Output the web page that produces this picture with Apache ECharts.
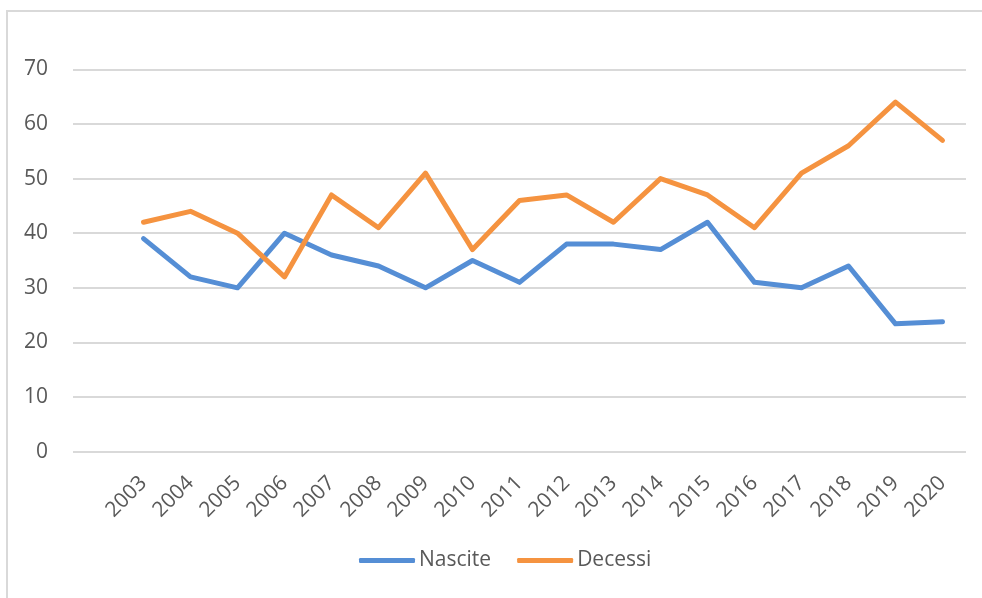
<!DOCTYPE html>
<html>
<head>
<meta charset="utf-8">
<script src="https://cdn.jsdelivr.net/npm/echarts@6/dist/echarts.min.js"></script>
<style>
html,body{margin:0;padding:0;background:#fff;}
#chart{width:982px;height:598px;}
</style>
</head>
<body>
<div id="chart"></div>
<script>
const years = ['2003','2004','2005','2006','2007','2008','2009','2010','2011','2012','2013','2014','2015','2016','2017','2018','2019','2020'];
const nascite = [39,32,30,40,36,34,30,35,31,38,38,37,42,31,30,34,23.4,23.8];
const decessi = [42,44,40,32,47,41,51,37,46,47,42,50,47,41,51,56,64,57];
const yTicks = {min:0, max:70, interval:10};

const FONT = 'Open Sans';
const TXT = '#595959';
const chart = echarts.init(document.getElementById('chart'), null, {renderer:'canvas'});
chart.setOption({
  animation:false,
  backgroundColor:'#fff',
  graphic:[{
    type:'rect', shape:{x:7, y:11, width:1200, height:800},
    style:{fill:'none', stroke:'#d9d9d9', lineWidth:2}, silent:true, z:-1
  }],
  grid:[
    {left:73, right:16, top:69.3, bottom:146.3},
    {left:120, right:16, top:69.3, bottom:146.3}
  ],
  xAxis:[
    {type:'value', gridIndex:0, show:false, min:0, max:1},
    {type:'category', gridIndex:1, data:years, boundaryGap:true,
     axisLine:{show:false}, axisTick:{show:false},
     axisLabel:{rotate:45, margin:28, color:TXT, fontFamily:FONT, fontSize:21, interval:0}}
  ],
  yAxis:[
    {type:'value', gridIndex:0, min:yTicks.min, max:yTicks.max, interval:yTicks.interval,
     axisLine:{show:false}, axisTick:{show:false},
     axisLabel:{margin:25, color:TXT, fontFamily:FONT, fontSize:21},
     splitLine:{lineStyle:{color:'#d9d9d9', width:2}}},
    {type:'value', gridIndex:1, min:yTicks.min, max:yTicks.max, interval:yTicks.interval, show:false,
     splitLine:{show:false}}
  ],
  legend:{
    left:354, top:545, itemWidth:56, itemHeight:5, itemGap:26, icon:'roundRect',
    textStyle:{color:TXT, fontFamily:FONT, fontSize:21, padding:[0,0,0,-1]},
    data:['Nascite','Decessi']
  },
  series:[
    {name:'Nascite', type:'line', xAxisIndex:1, yAxisIndex:1, data:nascite, symbol:'none',
     color:'#558ED5', lineStyle:{width:5, color:'#558ED5', cap:'round', join:'round'}},
    {name:'Decessi', type:'line', xAxisIndex:1, yAxisIndex:1, data:decessi, symbol:'none',
     color:'#F59340', lineStyle:{width:5, color:'#F59340', cap:'round', join:'round'}}
  ]
});
</script>
</body>
</html>
